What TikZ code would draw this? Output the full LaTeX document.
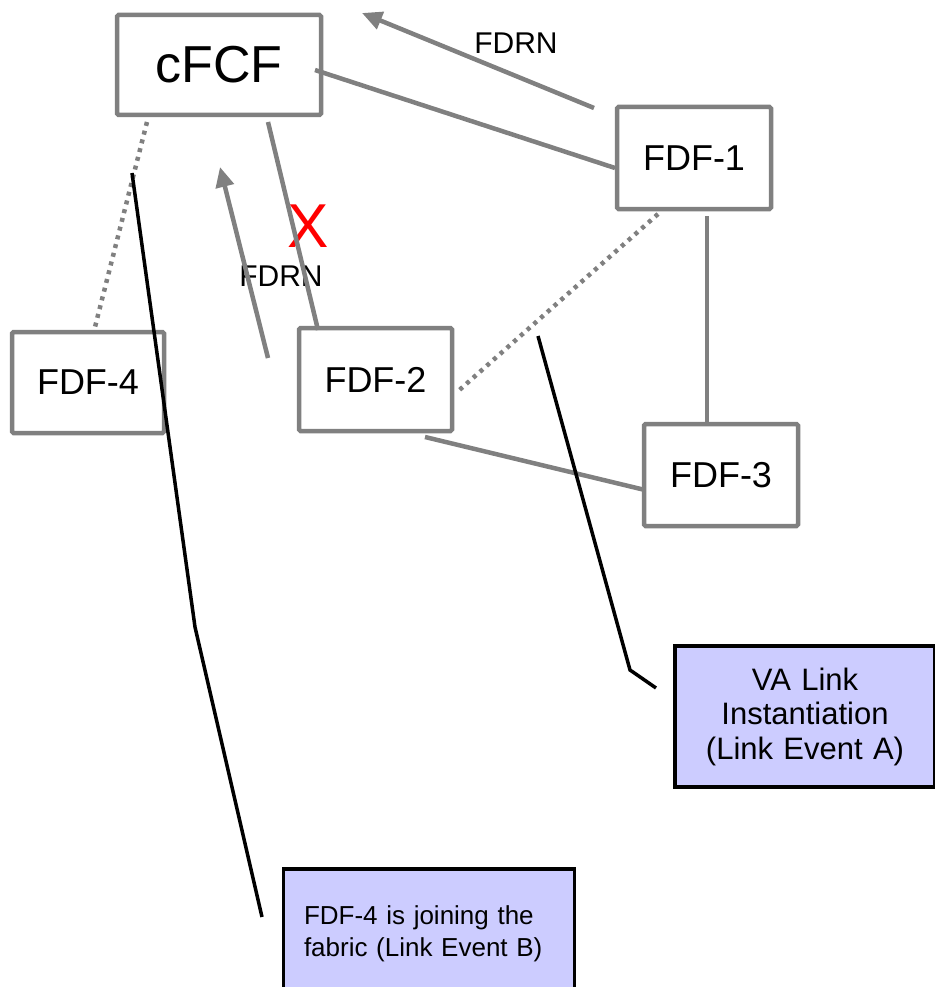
\documentclass[tikz,border=0pt]{standalone}
\usepackage{fontspec}
\setmainfont{Liberation Sans}
\usetikzlibrary{arrows.meta}
\definecolor{lgray}{HTML}{808080}
\definecolor{evfill}{HTML}{CCCCFF}
\tikzset{
  fdfbox/.style={draw=lgray, line width=4.5pt, rounded corners=1.5pt, minimum width=154pt, minimum height=102pt, inner sep=0pt, font=\fontsize{36}{40}\selectfont},
  link/.style={draw=lgray, line width=4.5pt},
  dotlink/.style={draw=lgray, line width=4.5pt, dash pattern=on 4pt off 5pt},
  fdrn/.style={draw=lgray, line width=4.5pt, -{Triangle[length=20pt,width=18pt]}},
  callout/.style={draw=black, line width=3.5pt},
  eventbox/.style={draw=black, fill=evfill, line width=3.5pt},
  lbl/.style={inner sep=0pt, font=\fontsize{30}{34}\selectfont}
}
\begin{document}
\begin{tikzpicture}[x=1pt, y=-1pt]
\useasboundingbox (0,0) rectangle (934,987);
% nodes
\node[fdfbox, minimum width=204pt, minimum height=100pt, font=\fontsize{52}{56}\selectfont] (cfcf) at (219,65) {cFCF};
\node[fdfbox] (f1) at (694,158) {FDF-1};
\node[fdfbox, minimum width=152pt, minimum height=101pt] (f4) at (88,382.5) {FDF-4};
\node[fdfbox, minimum width=153pt, minimum height=103pt] (f2) at (375.5,379.5) {FDF-2};
\node[fdfbox] (f3) at (721,475) {FDF-3};
\node[eventbox, text width=240pt, inner xsep=10pt, minimum height=141pt, align=center, font=\fontsize{31}{34.5}\selectfont] (eva) at (805,716.5) {VA Link\\Instantiation\\(Link Event A)};
\node[eventbox, text width=250pt, inner xsep=20.5pt, minimum height=130pt, align=left, font=\fontsize{26}{32}\selectfont] (evb) at (429,934) {FDF-4 is joining the\\fabric (Link Event B)};
% labels
\node[lbl] (lab1) at (516,43) {FDRN};
\node[lbl] (lab2) at (281,276) {FDRN};
\node[inner sep=0pt, text=red, font=\fontsize{62}{64}\selectfont] (xmark) at (308,226) {X};
% endpoints
\coordinate (cA) at (315,70);
\coordinate (f1A) at (615,168);
\coordinate (r1s) at (594,108);
\coordinate (r1e) at (362,13);
\coordinate (cB) at (147,122);
\coordinate (f4A) at (95,327);
\coordinate (cC) at (268,122);
\coordinate (f2A) at (318,330);
\coordinate (r2s) at (268,358);
\coordinate (r2e) at (220,167);
\coordinate (f1B) at (658,214);
\coordinate (f2B) at (456,393);
\coordinate (f1C) at (707,216);
\coordinate (f3A) at (707,422);
\coordinate (f2C) at (425,437);
\coordinate (f3B) at (645,490);
\coordinate (aS) at (538,336);
\coordinate (aM) at (630,670);
\coordinate (aE) at (656,688);
\coordinate (bS) at (132,173);
\coordinate (bM) at (195,627);
\coordinate (bE) at (262,917);
% connectors
\draw[link] (cA) -- (f1A);
\draw[fdrn] (r1s) -- (r1e);
\draw[dotlink] (cB) -- (f4A);
\draw[link] (cC) -- (f2A);
\draw[fdrn] (r2s) -- (r2e);
\draw[dotlink] (f1B) -- (f2B);
\draw[link] (f1C) -- (f3A);
\draw[link] (f2C) -- (f3B);
\draw[callout] (aS) -- (aM) -- (aE);
\draw[callout] (bS) -- (bM) -- (bE);
\end{tikzpicture}
\end{document}
